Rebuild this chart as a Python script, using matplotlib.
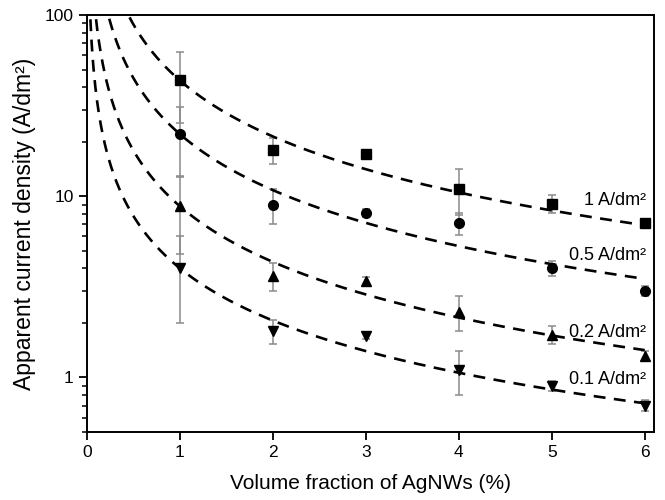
import numpy as np
import matplotlib
matplotlib.use("Agg")
import matplotlib.pyplot as plt
from matplotlib.ticker import FixedLocator, LogLocator, NullFormatter, FuncFormatter

plt.rcParams['font.family'] = ['Liberation Sans', 'DejaVu Sans']

# volume fraction of AgNWs (%)
x = [1, 2, 3, 4, 5, 6]

# apparent current density for each applied current density
j_1 = [44, 18, 17.1, 11, 9.1, 7.1]
j_1_err = [18.5, 3, 0.7, 3.1, 1.0, 0.35]
j_05 = [22, 9, 8.1, 7.1, 4.0, 3.0]
j_05_err = [9, 2, 0.4, 1.0, 0.37, 0.2]
j_02 = [8.8, 3.65, 3.4, 2.3, 1.72, 1.32]
j_02_err = [4, 0.65, 0.2, 0.5, 0.2, 0.08]
j_01 = [4.0, 1.8, 1.7, 1.1, 0.9, 0.70]
j_01_err = [2, 0.28, 0.08, 0.3, 0.06, 0.05]

labels = ["1 A/dm²", "0.5 A/dm²", "0.2 A/dm²", "0.1 A/dm²"]
label_y = [9.45, 4.7, 1.77, 0.975]

# power-law fit y = a * x^-b
fit_a = [43.5, 22, 8.8, 4.0]
fit_b = [1.026, 1.026, 1.02, 0.957]

series = [(j_1, j_1_err, 's', 6.5), (j_05, j_05_err, 'o', 7),
          (j_02, j_02_err, '^', 7.5), (j_01, j_01_err, 'v', 7.5)]

fig = plt.figure(figsize=(6.65, 5.0), dpi=100)
ax = fig.add_axes([0.1308, 0.136, 0.8527, 0.834])

xf = np.linspace(0.02, 6.0, 600)
for (y, err, m, ms), a, b, lab, ly in zip(series, fit_a, fit_b, labels, label_y):
    ax.errorbar(x, y, yerr=err, fmt=m, color='black', markersize=ms,
                ecolor='#8a8a8a', elinewidth=1.1, capsize=3, capthick=1.1, zorder=3)
    ax.plot(xf, a * xf ** (-b), color='black', linestyle=(0, (4.5, 3.2)),
            linewidth=1.9, zorder=4)
    ax.text(6.02, ly, lab, ha='right', va='center', fontsize=13, zorder=5)

ax.set_yscale('log')
ax.set_xlim(0, 6.1)
ax.set_ylim(0.5, 100)
ax.xaxis.set_major_locator(FixedLocator([0, 1, 2, 3, 4, 5, 6]))
ax.yaxis.set_major_locator(FixedLocator([1, 10, 100]))
ax.yaxis.set_major_formatter(FuncFormatter(lambda v, p: f"{v:g}"))
ax.yaxis.set_minor_locator(LogLocator(base=10, subs=np.arange(2, 10), numticks=20))
ax.yaxis.set_minor_formatter(NullFormatter())

ax.tick_params(which='major', direction='out', length=6, width=1.3, labelsize=12.5)
ax.tick_params(which='minor', direction='out', length=3.5, width=1.1)
for s in ax.spines.values():
    s.set_linewidth(1.4)

ax.set_xlabel("Volume fraction of AgNWs (%)", fontsize=15, labelpad=10)
ax.set_ylabel("Apparent current density (A/dm²)", fontsize=16.5, labelpad=6)

fig.savefig("out.png", dpi=100)
